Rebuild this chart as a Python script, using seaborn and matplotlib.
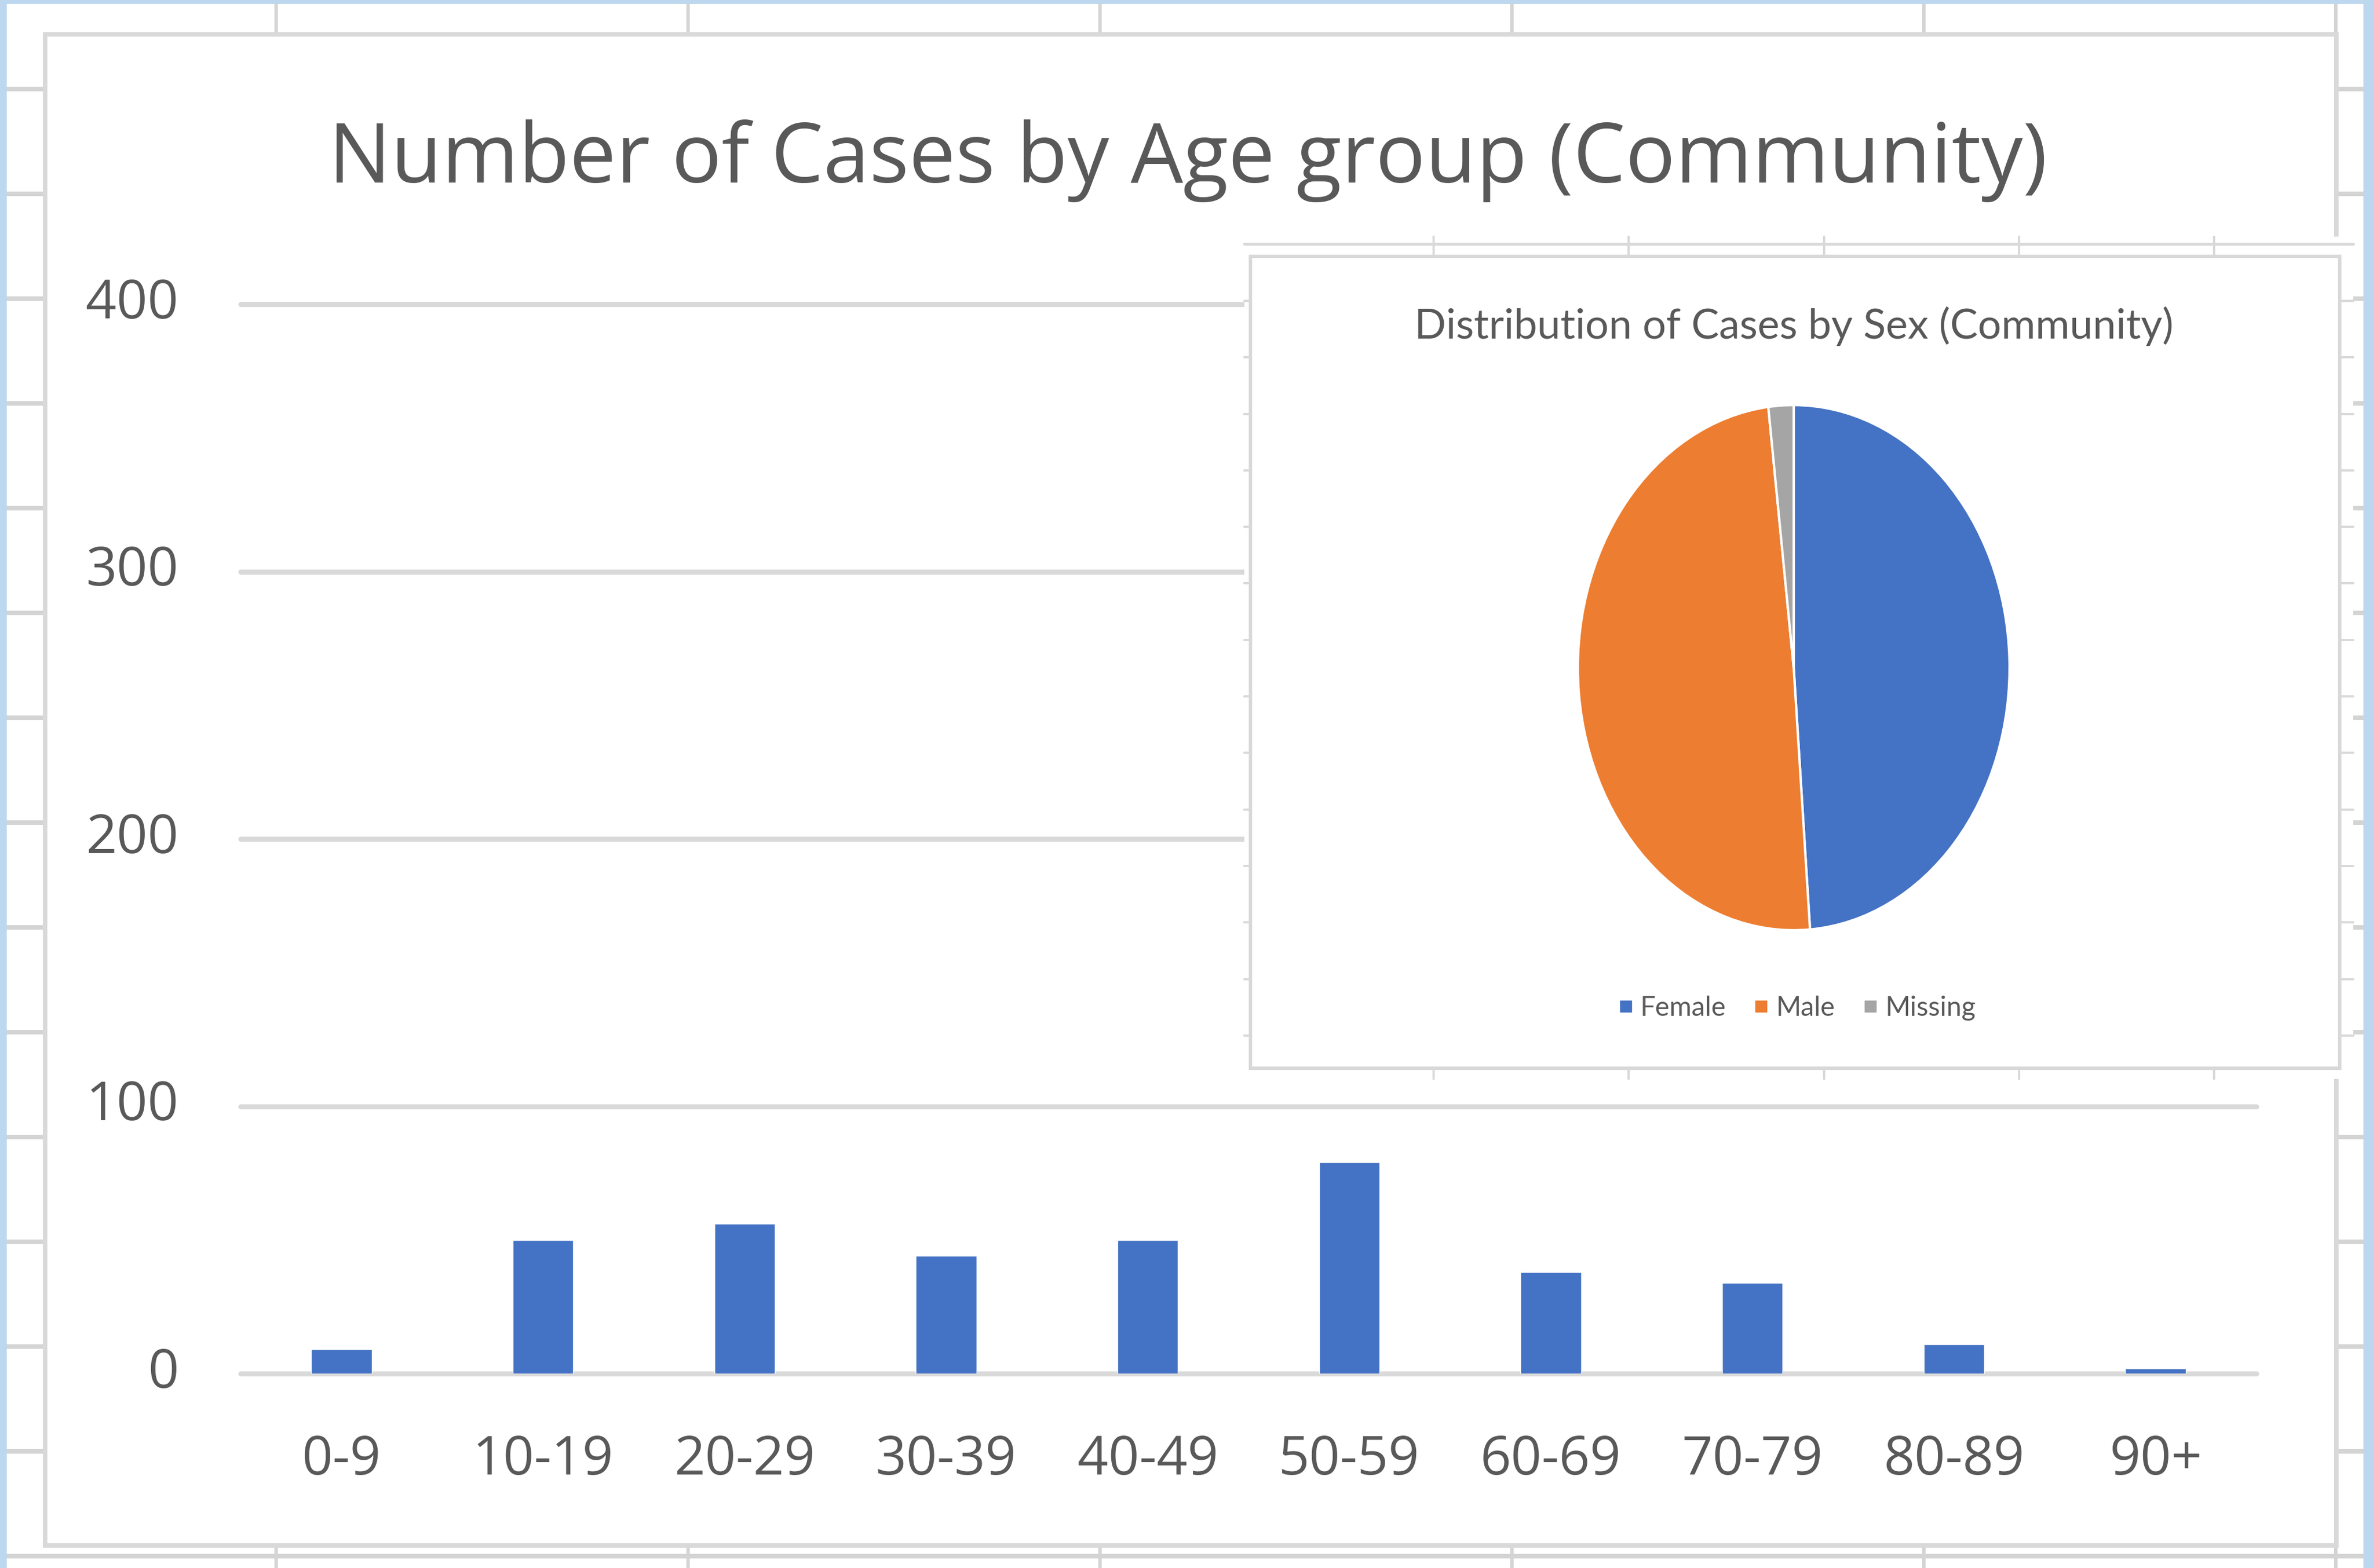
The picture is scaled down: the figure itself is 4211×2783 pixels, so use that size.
import numpy as np
import seaborn as sns
import matplotlib.pyplot as plt
from matplotlib.patches import Rectangle
from matplotlib.lines import Line2D

# values
age_groups = ['0-9', '10-19', '20-29', '30-39', '40-49', '50-59', '60-69', '70-79', '80-89', '90+']
cases = [9, 50, 56, 44, 50, 79, 38, 34, 11, 2]
y_ticks = [0, 100, 200, 300, 400]

sexes = ['Female', 'Male', 'Missing']
sex_counts = [182, 184, 7]
sex_colors = ['#4472C4', '#ED7D31', '#A5A5A5']

W, H = 4211, 2783
grid_c = '#D9D9D9'
cell_c = '#D4D4D4'
text_c = '#595959'


def box(x0, y0, x1, y1):
    # pixel box (origin top left) -> figure fraction rect
    return [x0 / W, 1 - y1 / H, (x1 - x0) / W, (y1 - y0) / H]


def pt(px):
    return px * 0.72


sns.set_theme(style='white')
plt.rcParams['font.family'] = ['Open Sans', 'DejaVu Sans']

fig = plt.figure(figsize=(W / 100, H / 100), dpi=100)
fig.patch.set_facecolor('white')

# spreadsheet behind the chart object
bg = fig.add_axes([0, 0, 1, 1], zorder=0)
bg.set_xlim(0, W)
bg.set_ylim(H, 0)
bg.axis('off')
for y in np.arange(158, H, 186):
    bg.plot([0, W], [y, y], color=cell_c, lw=pt(8), solid_capstyle='butt', zorder=1)
for x in np.arange(490, W, 731):
    bg.plot([x, x], [0, H], color=cell_c, lw=pt(6), solid_capstyle='butt', zorder=1)
bg.add_patch(Rectangle((80, 61), 4146 - 80, 2743 - 61, facecolor='white', edgecolor=grid_c,
                       lw=pt(8), zorder=3))
for r in [(0, 0, 12, H), (0, 0, W, 7), (4194, 0, W - 4194, H)]:
    bg.add_patch(Rectangle(r[:2], r[2], r[3], facecolor='#BDD7EE', lw=0, zorder=4))

# main bar chart
ax = fig.add_axes(box(427, 540, 4004, 2438), zorder=1)
ax.patch.set_alpha(0)
sns.barplot(x=age_groups, y=cases, color='#4472C4', saturation=1, width=0.3, ax=ax)
ax.set_ylim(0, 400)
ax.set_xlim(-0.5, len(age_groups) - 0.5)
ax.set_yticks(y_ticks)
ax.set_xlabel('')
ax.set_ylabel('')
ax.yaxis.grid(True, color=grid_c, lw=pt(9))
for gl in ax.get_ygridlines():
    gl.set_clip_on(False)
ax.set_axisbelow(True)
sns.despine(ax=ax, left=True, bottom=True)
ax.tick_params(axis='both', length=0, labelsize=69, labelcolor=text_c)
ax.tick_params(axis='y', pad=pt(110))
ax.tick_params(axis='x', pad=pt(107))
for lab in ax.get_yticklabels():
    lab.set_va('center')

fig.text(2108 / W, 1 - 324 / H, 'Number of Cases by Age group (Community)',
         ha='center', va='baseline', fontsize=106, color=text_c)

# pasted pie chart picture on top
ov = fig.add_axes([0, 0, 1, 1], zorder=2)
ov.set_xlim(0, W)
ov.set_ylim(H, 0)
ov.axis('off')
ov.add_patch(Rectangle((2208, 420), 4176 - 2208, 1915 - 420, facecolor='white', lw=0, zorder=1))
ov.plot([2208, 4176], [433, 433], color=grid_c, lw=pt(5), zorder=2)
for y in np.arange(534, 1890, 100.3):
    ov.plot([2208, 2219], [y, y], color=grid_c, lw=pt(4), zorder=2)
    ov.plot([4152, 4176], [y, y], color=grid_c, lw=pt(4), zorder=2)
for x in np.arange(2544, 4100, 346.3):
    ov.plot([x, x], [420, 455], color=grid_c, lw=pt(4), zorder=2)
    ov.plot([x, x], [1896, 1915], color=grid_c, lw=pt(4), zorder=2)
ov.add_patch(Rectangle((2219, 455), 4152 - 2219, 1896 - 455, facecolor='white', edgecolor=grid_c,
                       lw=pt(6), zorder=3))

fig.text(3183 / W, 1 - 601 / H, 'Distribution of Cases by Sex (Community)',
         ha='center', va='baseline', fontsize=53, color=text_c, family=['Lato', 'DejaVu Sans'],
         zorder=5)

pax = fig.add_axes(box(3183 - 383, 1185 - 466, 3183 + 383, 1185 + 466), zorder=3)
wedges, _ = pax.pie(sex_counts, colors=sex_colors, startangle=90, counterclock=False,
                    wedgeprops=dict(edgecolor='white', linewidth=3))
pax.set_aspect('auto')
pax.set_xlim(-1, 1)
pax.set_ylim(-1, 1)
pax.axis('off')

handles = [Line2D([], [], marker='s', linestyle='', markersize=15, color=c) for c in sex_colors]
leg = fig.legend(handles, sexes, loc='center', bbox_to_anchor=(3188 / W, 1 - 1789 / H),
                 ncol=3, frameon=False, handlelength=0.6, handletextpad=0.25, columnspacing=1.0,
                 prop={'family': ['Lato', 'DejaVu Sans'], 'size': 34.5}, labelcolor=text_c)
leg.set_zorder(5)

fig.savefig('out.png', dpi=100, facecolor='white')
